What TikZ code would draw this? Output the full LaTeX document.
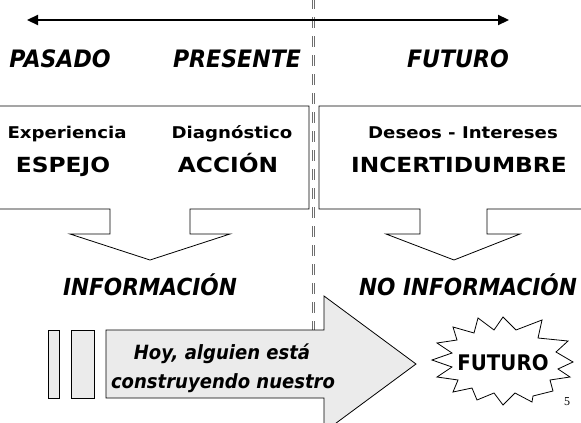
\documentclass[tikz,border=0pt]{standalone}
\usepackage{fontspec}
\setmainfont{DejaVu Sans}
\newfontfamily\labfont{DejaVu Sans}[FakeStretch=0.92]
\newfontfamily\boxfont{DejaVu Sans}[FakeStretch=1.12]
\newfontfamily\pgfont{Liberation Serif}
\usetikzlibrary{arrows.meta}
\definecolor{arrowfill}{HTML}{EBEBEB}
\definecolor{sepgray}{HTML}{6E6E6E}
\tikzset{
  lab/.style={font=\labfont\bfseries\itshape\fontsize{24}{28}\selectfont, anchor=base, inner sep=0pt},
  info/.style={font=\labfont\bfseries\itshape\fontsize{23.5}{28}\selectfont, anchor=base, inner sep=0pt},
  small/.style={font=\boxfont\bfseries\fontsize{16.2}{20}\selectfont, anchor=base, inner sep=0pt},
  big/.style={font=\boxfont\bfseries\fontsize{20.8}{24}\selectfont, anchor=base, inner sep=0pt},
  arrowtext/.style={font=\labfont\bfseries\itshape\fontsize{19.6}{24}\selectfont, anchor=base, inner sep=0pt},
  startext/.style={font=\labfont\bfseries\fontsize{21.5}{24}\selectfont, anchor=base, inner sep=0pt},
  panel/.style={draw=black, line width=0.8pt, line join=miter},
  shade/.style={draw=black, line width=0.8pt, fill=arrowfill},
  sepline/.style={draw=sepgray, line width=0.8pt, double=white, double distance=0.9pt, dash pattern=on 11pt off 8pt},
  timeline/.style={line width=2.2pt, {Triangle[length=11pt,width=10pt]}-{Triangle[length=11pt,width=10pt]}},
}
\begin{document}
\begin{tikzpicture}[x=1pt,y=-1pt]
\useasboundingbox (0,0) rectangle (581,423);
\clip (0,0) rectangle (581,423);

% separator
\coordinate (septop) at (313.5,-2);
\coordinate (sepbot) at (313.5,345);
\draw[sepline] (septop) -- (sepbot);

% time line
\coordinate (tl) at (27,20);
\coordinate (tr) at (509,20);
\draw[timeline] (tl) -- (tr);

% labels
\node[lab] (pasado) at (60,67) {PASADO};
\node[lab] (presente) at (237,67) {PRESENTE};
\node[lab] (futuro) at (458,67) {FUTURO};

% left panel
\draw[panel] (-5,106) -- (309,106) -- (309,209) -- (190,209) -- (190,234) -- (230,234)
  -- (150,260) -- (70,234) -- (110,234) -- (110,209) -- (-5,209);
% right panel
\draw[panel] (590,106) -- (319,106) -- (319,209) -- (420,209) -- (420,234) -- (386,234)
  -- (454,260) -- (520,234) -- (487,234) -- (487,209) -- (590,209);

\node[small] (exp) at (67,138) {Experiencia};
\node[small] (diag) at (232,138) {Diagnóstico};
\node[small] (des) at (463,138) {Deseos - Intereses};
\node[big] (esp) at (63,172) {ESPEJO};
\node[big] (acc) at (228,172) {ACCIÓN};
\node[big] (inc) at (459,172) {INCERTIDUMBRE};

\node[info] (inf) at (150,295) {INFORMACIÓN};
\node[info] (noinf) at (468,295) {NO INFORMACIÓN};

% bottom arrow
\draw[shade] (48,330) rectangle (59,398);
\draw[shade] (71,330) rectangle (94,398);
\draw[shade, line join=miter] (106,330) -- (324,330) -- (324,296) -- (416,364) -- (324,432)
  -- (324,398) -- (106,398) -- cycle;
\node[arrowtext] (hoy) at (222,359) {Hoy, alguien está};
\node[arrowtext] (con) at (223,388) {construyendo nuestro};

% star
\draw[panel, fill=white] (432,360) -- (452,353) -- (437,343) -- (457,340) -- (453,327)
  -- (474,333) -- (478,318) -- (494,330) -- (503,317) -- (516,330) -- (542,320)
  -- (538,338) -- (568,341) -- (556,352) -- (573,362) -- (558,369) -- (570,377)
  -- (550,380) -- (553,391) -- (533,396) -- (532,402) -- (515,393) -- (503,405)
  -- (494,393) -- (477,400) -- (472,388) -- (453,392) -- (458,380) -- (437,377)
  -- (452,367) -- cycle;
\node[startext] (fut2) at (503,370) {FUTURO};

\node[font=\pgfont\fontsize{12}{14}\selectfont, anchor=base, inner sep=0pt] (pg) at (567,405) {5};
\end{tikzpicture}
\end{document}
